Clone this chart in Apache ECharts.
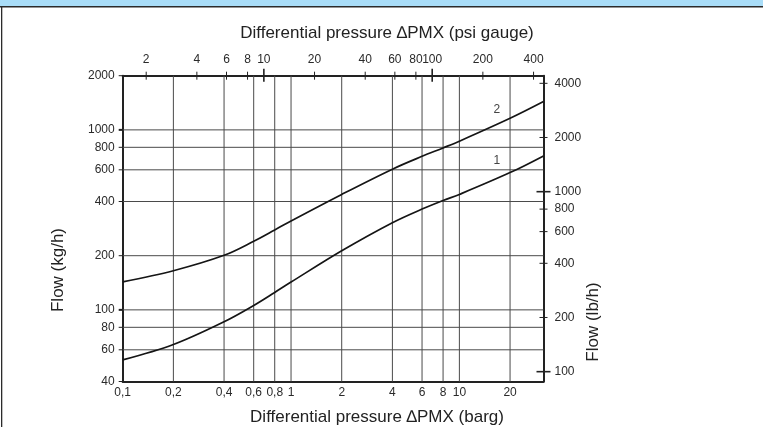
<!DOCTYPE html>
<html>
<head>
<meta charset="utf-8">
<title>Flow vs differential pressure</title>
<script src="https://cdn.jsdelivr.net/npm/echarts@6/dist/echarts.min.js"></script>
<style>
  html, body { margin: 0; padding: 0; background: #fff; }
  #chart { width: 763px; height: 427px; }
</style>
</head>
<body>
<div id="chart"></div>
<script>
// curve points (barg -> kg/h)
const pressureBar = [0.1, 0.2, 0.4, 0.6, 0.8, 1, 2, 4, 6, 8, 10, 20, 31.6];
const flowCurve2 = [143, 165, 201, 240.5, 278, 312, 438, 605, 713, 794, 865, 1159, 1436];
const flowCurve1 = [52.7, 64.2, 85.9, 105.8, 125, 142.7, 213, 305, 363, 405, 438, 579, 717];

// tick values of the four axes
const barTicks = [0.1, 0.2, 0.4, 0.6, 0.8, 1, 2, 4, 6, 8, 10, 20];
const psiTicks = [2, 4, 6, 8, 10, 20, 40, 60, 80, 100, 200, 400];
const kgTicks = [40, 60, 80, 100, 200, 400, 600, 800, 1000, 2000];
const lbTicks = [100, 200, 400, 600, 800, 1000, 2000, 4000];
const psiMajor = [10, 100];
const lbMajor = [100, 1000];

// grid lines
const barGrid = [0.2, 0.4, 0.6, 0.8, 1, 2, 4, 6, 8, 10, 20];
const kgGrid = [60, 80, 100, 200, 400, 600, 800, 1000];

// curve tags
const tagNames = ['2', '1'];
const tagBar = [16.7, 16.7];
const tagFlow = [1290, 673];

const BAR_MIN = 0.1, BAR_MAX = 31.6;
const KG_MIN = 40, KG_MAX = 2000;
const PSI_PER_BAR = 14.5038;
const LB_PER_KG = 2.20462;

const FONT = '"Liberation Sans", Arial, sans-serif';
const INK = '#2a2a2a';
const GRID = '#4a4a4a';

const chart = echarts.init(document.getElementById('chart'));

// custom series helper: draws through api.coord so everything sits on the log scales
function overlay(data, xIdx, yIdx, draw, z) {
  return {
    type: 'custom', xAxisIndex: xIdx, yAxisIndex: yIdx, clip: false, silent: true,
    z: z || 2, data: data,
    renderItem: (params, api) => draw(api.coord([api.value(0), api.value(1)]), params.dataIndex, api)
  };
}
function seg(x1, y1, x2, y2, color, w) {
  return { type: 'line', shape: { x1, y1, x2, y2 }, style: { stroke: color, lineWidth: w } };
}
function label(x, y, text, align, valign, extra) {
  return { type: 'text', x, y, style: Object.assign({ text, fill: INK, font: '12px ' + FONT, align, verticalAlign: valign }, extra || {}) };
}

const hiddenAxis = (extra) => Object.assign({
  type: 'log', logBase: 10,
  axisLine: { show: true, onZero: false, lineStyle: { color: '#222', width: 2 } },
  axisTick: { show: false }, axisLabel: { show: false },
  splitLine: { show: false }, minorTick: { show: false }, minorSplitLine: { show: false }
}, extra);

const series = [
  // vertical grid lines, from bottom to top of the plot
  overlay(barGrid.map(v => [v, KG_MIN]), 0, 0, (p, i, api) => {
    const top = api.coord([barGrid[i], KG_MAX]);
    return seg(p[0], p[1], p[0], top[1], GRID, 1);
  }, 1),
  // horizontal grid lines
  overlay(kgGrid.map(v => [BAR_MIN, v]), 0, 0, (p, i, api) => {
    const right = api.coord([BAR_MAX, kgGrid[i]]);
    return seg(p[0], p[1], right[0], p[1], GRID, 1);
  }, 1),
  // bottom labels (barg)
  overlay(barTicks.map(v => [v, KG_MIN]), 0, 0, (p, i) =>
    label(p[0], p[1] + 5, String(barTicks[i]).replace('.', ','), 'center', 'top')),
  // left labels (kg/h)
  overlay(kgTicks.map(v => [BAR_MIN, v]), 0, 0, (p, i) => ({
    type: 'group', children: [
      seg(p[0] - 4, p[1], p[0], p[1], '#222', kgTicks[i] === 1000 || kgTicks[i] === 100 ? 2 : 1),
      label(p[0] - 8, p[1], String(kgTicks[i]), 'right', 'middle')
    ]
  })),
  // top labels (psi)
  overlay(psiTicks.map(v => [v, KG_MAX]), 1, 0, (p, i) => {
    const major = psiMajor.indexOf(psiTicks[i]) >= 0;
    return {
      type: 'group', children: [
        seg(p[0], p[1] - (major ? 7 : 4), p[0], p[1] + (major ? 6 : 4), '#222', major ? 1.6 : 1),
        label(p[0], p[1] - 10, String(psiTicks[i]), 'center', 'bottom')
      ]
    };
  }),
  // right labels (lb/h)
  overlay(lbTicks.map(v => [BAR_MAX, v]), 0, 1, (p, i) => {
    const major = lbMajor.indexOf(lbTicks[i]) >= 0;
    return {
      type: 'group', children: [
        seg(p[0] - (major ? 7 : 4), p[1], p[0] + (major ? 7 : 4), p[1], '#222', major ? 1.6 : 1),
        label(p[0] + 11, p[1], String(lbTicks[i]), 'left', 'middle')
      ]
    };
  }),
  {
    type: 'line', name: '2', smooth: 0.35, symbol: 'none', silent: true, z: 3,
    lineStyle: { color: '#151515', width: 1.7 },
    data: pressureBar.map((b, i) => [b, flowCurve2[i]])
  },
  {
    type: 'line', name: '1', smooth: 0.35, symbol: 'none', silent: true, z: 3,
    lineStyle: { color: '#151515', width: 1.7 },
    data: pressureBar.map((b, i) => [b, flowCurve1[i]])
  },
  overlay(tagBar.map((b, i) => [b, tagFlow[i]]), 0, 0, (p, i) =>
    label(p[0], p[1], tagNames[i], 'center', 'middle', { fill: '#444', backgroundColor: '#fff', padding: [1, 3] }), 4)
];

const option = {
  animation: false,
  backgroundColor: '#fff',
  grid: { left: 122.7, right: 219.5, top: 75.7, bottom: 45.5, containLabel: false },
  xAxis: [
    hiddenAxis({ position: 'bottom', min: BAR_MIN, max: BAR_MAX }),
    hiddenAxis({ position: 'top', min: BAR_MIN * PSI_PER_BAR, max: BAR_MAX * PSI_PER_BAR })
  ],
  yAxis: [
    hiddenAxis({ position: 'left', min: KG_MIN, max: KG_MAX }),
    hiddenAxis({ position: 'right', min: KG_MIN * LB_PER_KG, max: KG_MAX * LB_PER_KG })
  ],
  graphic: [
    { type: 'rect', shape: { x: 0, y: 0, width: 763, height: 6 }, style: { fill: '#a9ddf8' } },
    { type: 'rect', shape: { x: 0, y: 6, width: 763, height: 1.5 }, style: { fill: '#2b2b2b' } },
    { type: 'rect', shape: { x: 1, y: 6, width: 1.3, height: 421 }, style: { fill: '#2b2b2b' } },
    { type: 'text', x: 387, y: 33, style: { text: 'Differential pressure ∆PMX (psi gauge)', font: '17px ' + FONT, fill: '#222', align: 'center', verticalAlign: 'middle' } },
    { type: 'text', x: 377, y: 417, style: { text: 'Differential pressure ∆PMX (barg)', font: '17px ' + FONT, fill: '#222', align: 'center', verticalAlign: 'middle' } },
    { type: 'text', x: 58, y: 270, rotation: Math.PI / 2, style: { text: 'Flow (kg/h)', font: '17px ' + FONT, fill: '#222', align: 'center', verticalAlign: 'middle' } },
    { type: 'text', x: 593, y: 322, rotation: Math.PI / 2, style: { text: 'Flow (lb/h)', font: '17px ' + FONT, fill: '#222', align: 'center', verticalAlign: 'middle' } }
  ],
  series: series
};

chart.setOption(option);
</script>
</body>
</html>
